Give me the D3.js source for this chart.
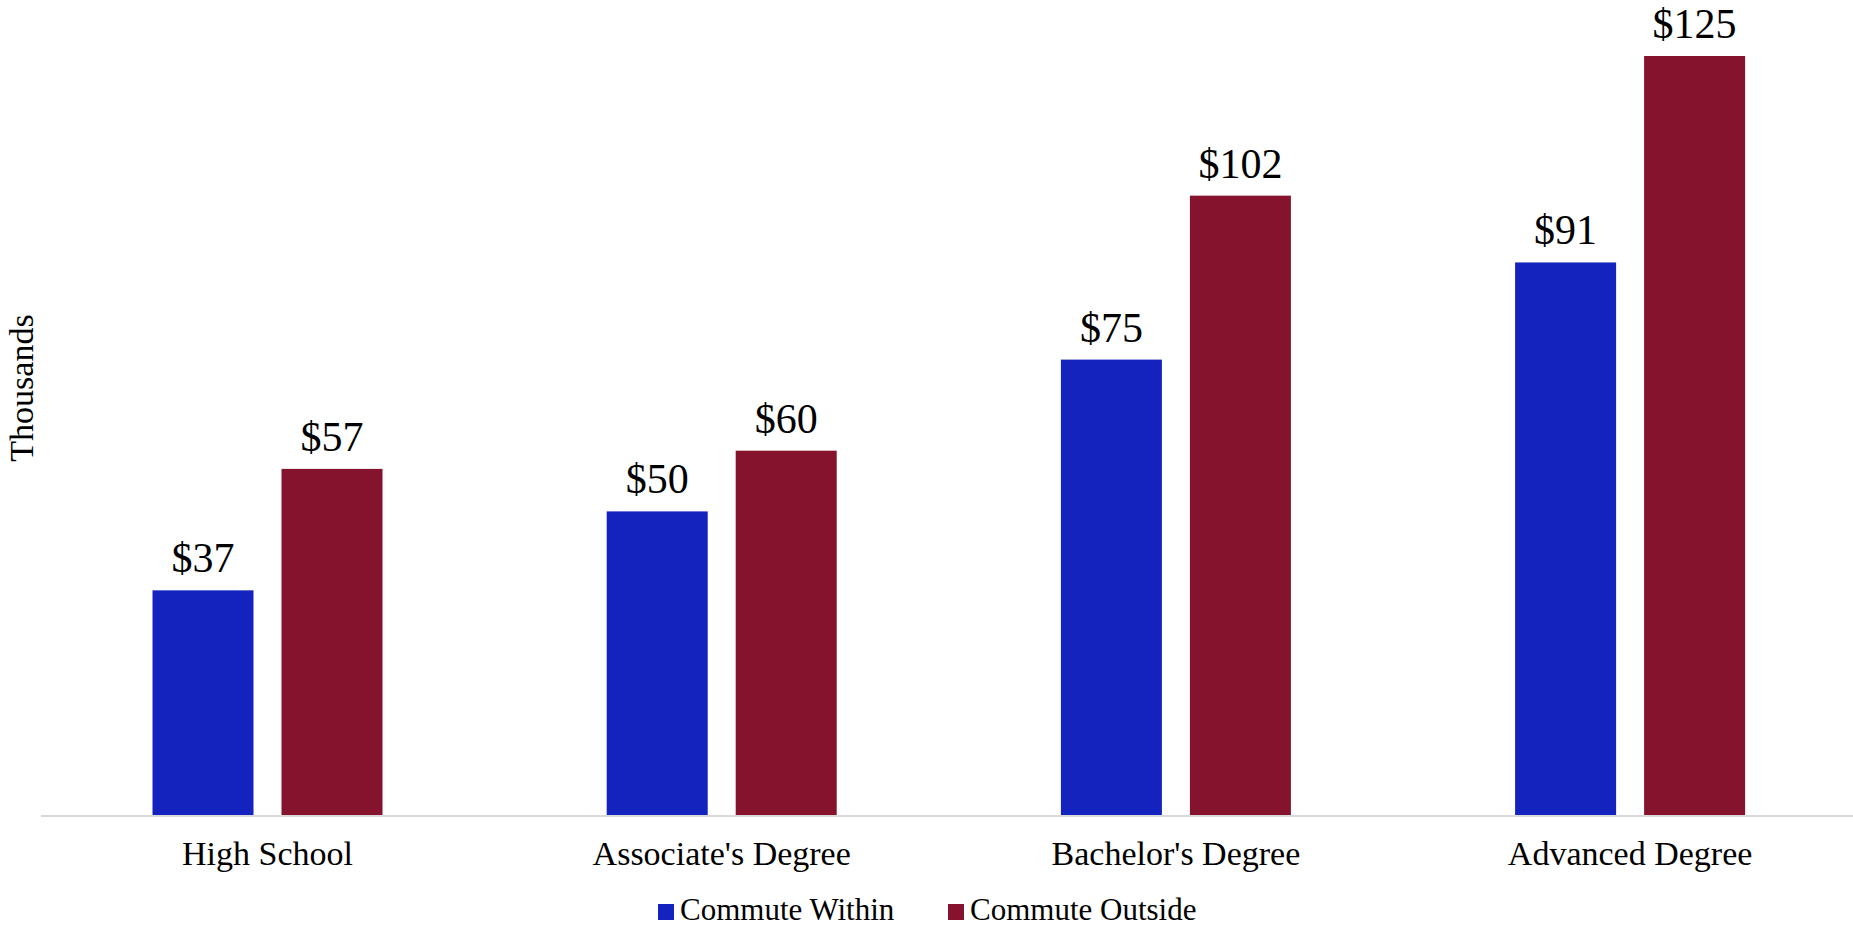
<!DOCTYPE html>
<html>
<head>
<meta charset="utf-8">
<script src="https://cdn.jsdelivr.net/npm/d3@7"></script>
<style>
  body { margin: 0; background: #fff; }
  text { font-family: "Liberation Serif", serif; fill: #000; }
</style>
</head>
<body>
<div id="chart"></div>
<script>
var categories = ["High School", "Associate's Degree", "Bachelor's Degree", "Advanced Degree"];
var seriesNames = ["Commute Within", "Commute Outside"];
var commuteWithin = [37, 50, 75, 91];
var commuteOutside = [57, 60, 102, 125];
var colors = ["#1423be", "#85132e"];

var width = 1853, height = 928;
var svg = d3.select("#chart").append("svg")
    .attr("width", width)
    .attr("height", height);

var x = d3.scaleBand()
    .domain(categories)
    .range([40.4, 1857.2]);

// each group: two bars of 101px with a 28px gap, centred in the band
var barW = 101, gap = 28;

var y = d3.scaleLinear()
    .domain([0, 125])
    .range([815, 56]);

var rows = categories.map(function (c, i) {
    return { cat: c, values: [commuteWithin[i], commuteOutside[i]] };
});

var groups = svg.selectAll("g.grp")
    .data(rows)
    .enter().append("g")
    .attr("class", "grp")
    .attr("transform", function (d) {
        return "translate(" + (x(d.cat) + x.bandwidth() / 2 - barW - gap / 2) + ",0)";
    });

groups.selectAll("rect")
    .data(function (d) { return d.values; })
    .enter().append("rect")
    .attr("x", function (d, i) { return i * (barW + gap); })
    .attr("y", function (d) { return y(d); })
    .attr("width", barW)
    .attr("height", function (d) { return y(0) - y(d); })
    .attr("fill", function (d, i) { return colors[i]; });

groups.selectAll("text.val")
    .data(function (d) { return d.values; })
    .enter().append("text")
    .attr("class", "val")
    .attr("x", function (d, i) { return i * (barW + gap) + barW / 2; })
    .attr("y", function (d) { return y(d) - 18; })
    .attr("text-anchor", "middle")
    .style("font-size", "42px")
    .text(function (d) { return "$" + d; });

// axis line
svg.append("line")
    .attr("x1", 41).attr("x2", width)
    .attr("y1", y(0) + 1).attr("y2", y(0) + 1)
    .attr("stroke", "#d9d9d9")
    .attr("stroke-width", 2);

var xAxis = svg.append("g")
    .attr("transform", "translate(0," + y(0) + ")")
    .call(d3.axisBottom(x).tickSize(0).tickPadding(0));
xAxis.select(".domain").remove();
xAxis.selectAll("text")
    .attr("dy", null)
    .attr("y", 50)
    .attr("fill", "#000")
    .style("font-family", "Liberation Serif, serif")
    .style("font-size", "34px");

svg.append("text")
    .attr("transform", "translate(33,388) rotate(-90)")
    .attr("text-anchor", "middle")
    .style("font-size", "34px")
    .text("Thousands");

// legend
var legendX = [658, 948];
var legend = svg.selectAll("g.leg")
    .data(seriesNames)
    .enter().append("g")
    .attr("class", "leg")
    .attr("transform", function (d, i) { return "translate(" + legendX[i] + ",0)"; });
legend.append("rect")
    .attr("x", 0).attr("y", 904)
    .attr("width", 16).attr("height", 16)
    .attr("fill", function (d, i) { return colors[i]; });
legend.append("text")
    .attr("x", 22).attr("y", 920)
    .style("font-size", "31px")
    .text(function (d) { return d; });
</script>
</body>
</html>
